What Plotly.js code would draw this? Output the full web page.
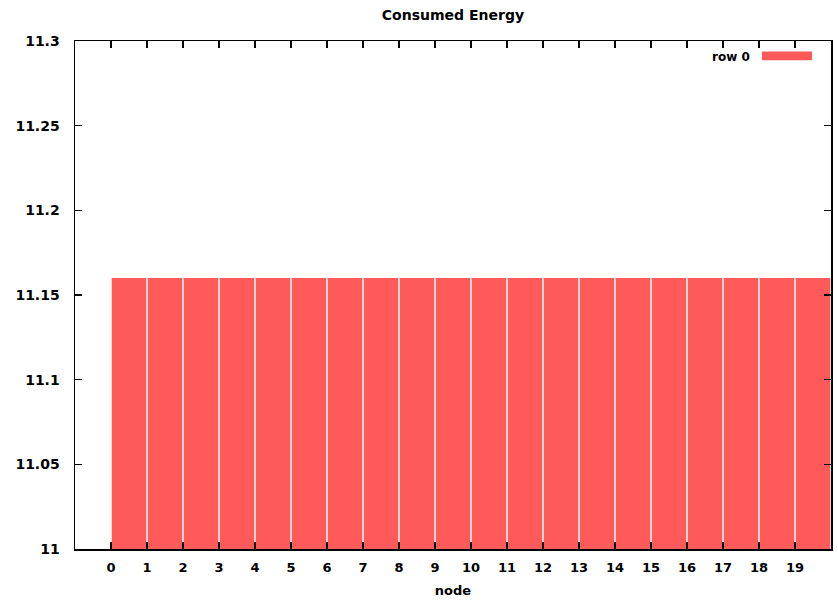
<!DOCTYPE html>
<html>
<head>
<meta charset="utf-8">
<script src="https://cdn.plot.ly/plotly-3.0.1.min.js"></script>
<style>html,body{margin:0;padding:0;background:#fff;}#chart{width:838px;height:601px;}</style>
</head>
<body>
<div id="chart"></div>
<script>
// Data
const nodes = [0,1,2,3,4,5,6,7,8,9,10,11,12,13,14,15,16,17,18,19];
const consumedEnergy = [11.16,11.16,11.16,11.16,11.16,11.16,11.16,11.16,11.16,11.16,11.16,11.16,11.16,11.16,11.16,11.16,11.16,11.16,11.16,11.16];
const seriesName = "row 0";
const yTicks = [11, 11.05, 11.1, 11.15, 11.2, 11.25, 11.3];
const yTickLabels = ["11", "11.05", "11.1", "11.15", "11.2", "11.25", "11.3"];
const chartTitle = "Consumed Energy";
const xTitle = "node";
const yBase = 11;

const barColor = "#ff5a5a";
const FAM = "DejaVu Sans, Liberation Sans, Arial, sans-serif";

const trace = {
  type: "bar",
  x: nodes,
  y: consumedEnergy.map(v => v - yBase),
  base: yBase,
  name: seriesName,
  offset: 0.02,
  width: 0.96,
  marker: {color: barColor, line: {width: 0}},
  showlegend: false,
  hoverinfo: "x+y"
};

const layout = {
  width: 838, height: 601,
  margin: {l: 75, r: 7, t: 41, b: 52},
  paper_bgcolor: "#fff", plot_bgcolor: "#fff",
  font: {family: FAM, size: 13, color: "#000"},
  title: {text: chartTitle, x: 0.5405, xanchor: "center", xref: "container",
          y: 1 - 15/601, yanchor: "middle", yref: "container",
          font: {family: FAM, size: 14, color: "#000", weight: "bold"}},
  xaxis: {
    range: [-1, 20], tickmode: "array", tickvals: nodes, ticktext: nodes.map(String),
    ticks: "inside", ticklen: 7, tickwidth: 1.5, tickcolor: "#000",
    showline: true, linecolor: "#000", linewidth: 1.5, mirror: "ticks",
    showgrid: false, zeroline: false,
    tickfont: {family: FAM, size: 13, color: "#000", weight: "bold"},
    ticklabelstandoff: 6,
    title: {text: xTitle, standoff: 12, font: {family: FAM, size: 13, color: "#000", weight: "bold"}}
  },
  yaxis: {
    range: [11, 11.3], tickmode: "array", tickvals: yTicks, ticktext: yTickLabels,
    ticks: "inside", ticklen: 7, tickwidth: 1.5, tickcolor: "#000",
    showline: true, linecolor: "#000", linewidth: 1.5, mirror: "ticks",
    showgrid: false, zeroline: false,
    tickfont: {family: FAM, size: 14, color: "#000", weight: "bold"},
    ticklabelstandoff: 11
  },
  showlegend: false,
  annotations: [{
    xref: "paper", yref: "paper", x: 0.8955, y: 0.969, xanchor: "right", yanchor: "middle",
    text: seriesName, showarrow: false,
    font: {family: FAM, size: 12, color: "#000", weight: "bold"}
  }],
  shapes: [{
    type: "rect", xref: "paper", yref: "paper",
    x0: 0.9087, x1: 0.9749, y0: 0.962, y1: 0.9795,
    fillcolor: barColor, line: {width: 0}
  }]
};

Plotly.newPlot("chart", [trace], layout, {displayModeBar: false, staticPlot: true});
</script>
</body>
</html>
